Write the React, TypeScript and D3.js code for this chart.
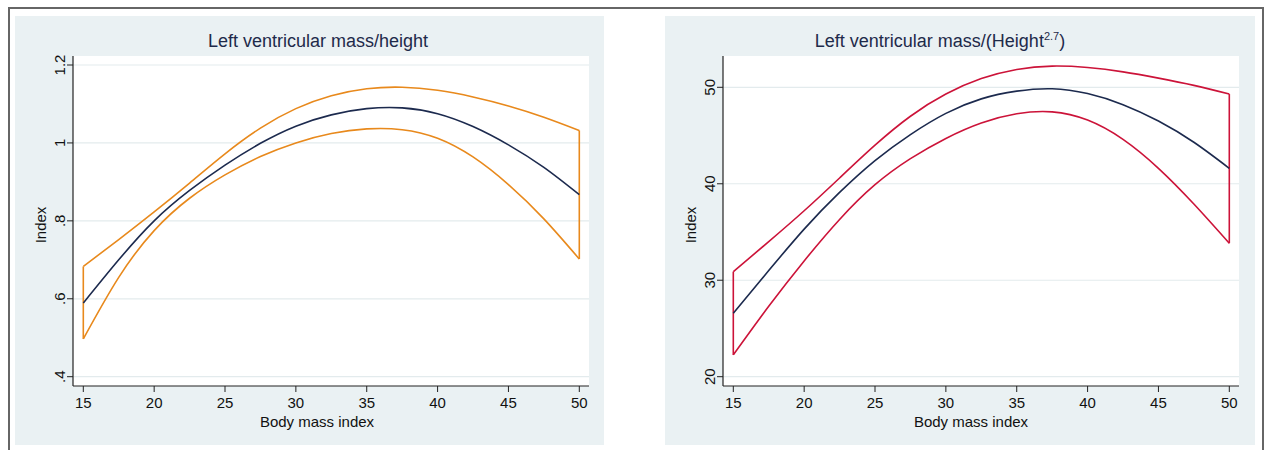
import React from 'react';
import * as d3 from 'd3';

// body mass index grid used for the fitted curves
const bmi = [15, 17.5, 20, 22.5, 25, 27.5, 30, 32.5, 35, 37.5, 40, 42.5, 45, 47.5, 50];

// left panel: LV mass / height
const lvhFit = [0.589, 0.7, 0.8, 0.878, 0.943, 0.999, 1.043, 1.072, 1.088, 1.09, 1.075, 1.042, 0.995, 0.937, 0.867];
const lvhUpper = [0.683, 0.752, 0.823, 0.897, 0.972, 1.038, 1.088, 1.121, 1.139, 1.143, 1.135, 1.118, 1.095, 1.066, 1.032];
const lvhLower = [0.497, 0.655, 0.775, 0.858, 0.918, 0.965, 1.0, 1.024, 1.036, 1.034, 1.012, 0.964, 0.893, 0.805, 0.702];

// right panel: LV mass / height^2.7
const lvh27Fit = [26.58, 31.0, 35.3, 39.1, 42.4, 45.1, 47.3, 48.8, 49.6, 49.85, 49.35, 48.2, 46.5, 44.3, 41.6];
const lvh27Upper = [30.89, 34.0, 37.2, 40.6, 44.0, 47.0, 49.3, 50.9, 51.85, 52.2, 52.05, 51.6, 50.95, 50.2, 49.3];
const lvh27Lower = [22.26, 27.3, 32.0, 36.3, 39.9, 42.6, 44.7, 46.3, 47.25, 47.45, 46.6, 44.6, 41.6, 37.9, 33.83];

const xTicks = [15, 20, 25, 30, 35, 40, 45, 50];
const leftYTicks = [0.4, 0.6, 0.8, 1, 1.2];
const leftYLabels = ['.4', '.6', '.8', '1', '1.2'];
const rightYTicks = [20, 30, 40, 50];
const rightYLabels = ['20', '30', '40', '50'];

const font = 'Arial, "Liberation Sans", Helvetica, sans-serif';
const bgColor = '#eaf1f3';
const gridColor = '#e3ebed';
const navy = '#1c2a4e';

interface IPanelProps {
  x0: number; // panel background left
  x1: number; // panel background right
  plotLeft: number;
  plotRight: number;
  yDomain: [number, number];
  yTop: number;
  yTicks: number[];
  yLabels: string[];
  fit: number[];
  upper: number[];
  lower: number[];
  ciColor: string;
  title: React.ReactNode;
  titleX: number;
  xTitleX: number;
}

const plotTop = 56;
const plotBottom = 386;

const Panel: React.FC<IPanelProps> = (p) => {
  const xScale = d3.scaleLinear().domain([15, 50]).range([p.plotLeft + 10.3, p.plotRight - 9.7]);
  const yScale = d3.scaleLinear().domain(p.yDomain).range([376.7, p.yTop]);

  const line = d3
    .line<number>()
    .x((_, i) => xScale(bmi[i]))
    .y((d) => yScale(d))
    .curve(d3.curveNatural);

  const first = 0;
  const last = bmi.length - 1;

  return (
    <g>
      <rect x={p.x0} y={16} width={p.x1 - p.x0} height={429} fill={bgColor} />
      <rect x={p.plotLeft} y={plotTop} width={p.plotRight - p.plotLeft} height={plotBottom - plotTop} fill="#fff" />
      {p.yTicks.map((t) => (
        <line key={t} x1={p.plotLeft} x2={p.plotRight} y1={yScale(t)} y2={yScale(t)} stroke={gridColor} strokeWidth={1.2} />
      ))}
      {/* confidence band */}
      <path d={line(p.upper) || ''} fill="none" stroke={p.ciColor} strokeWidth={1.6} />
      <path d={line(p.lower) || ''} fill="none" stroke={p.ciColor} strokeWidth={1.6} />
      <line
        x1={xScale(bmi[first])}
        x2={xScale(bmi[first])}
        y1={yScale(p.upper[first])}
        y2={yScale(p.lower[first])}
        stroke={p.ciColor}
        strokeWidth={1.6}
      />
      <line
        x1={xScale(bmi[last])}
        x2={xScale(bmi[last])}
        y1={yScale(p.upper[last])}
        y2={yScale(p.lower[last])}
        stroke={p.ciColor}
        strokeWidth={1.6}
      />
      <path d={line(p.fit) || ''} fill="none" stroke={navy} strokeWidth={1.6} />
      {/* axes */}
      <line x1={p.plotLeft} x2={p.plotLeft} y1={plotTop} y2={plotBottom} stroke="#222" strokeWidth={1.2} />
      <line x1={p.plotLeft} x2={p.plotRight} y1={plotBottom} y2={plotBottom} stroke="#222" strokeWidth={1.2} />
      {p.yTicks.map((t, i) => (
        <g key={t}>
          <line x1={p.plotLeft - 6} x2={p.plotLeft} y1={yScale(t)} y2={yScale(t)} stroke="#222" strokeWidth={1} />
          <text
            transform={`translate(${p.plotLeft - 8},${yScale(t)}) rotate(-90)`}
            textAnchor="middle"
            fontSize={15}
            fontFamily={font}
            fill="#111"
          >
            {p.yLabels[i]}
          </text>
        </g>
      ))}
      {xTicks.map((t) => (
        <g key={t}>
          <line x1={xScale(t)} x2={xScale(t)} y1={plotBottom} y2={plotBottom + 6} stroke="#222" strokeWidth={1} />
          <text x={xScale(t)} y={407.5} textAnchor="middle" fontSize={15} fontFamily={font} fill="#111">
            {t}
          </text>
        </g>
      ))}
      <text x={p.xTitleX} y={427} textAnchor="middle" fontSize={15} fontFamily={font} fill="#111">
        Body mass index
      </text>
      <text
        transform={`translate(${p.plotLeft - 27},${225}) rotate(-90)`}
        textAnchor="middle"
        fontSize={15}
        fontFamily={font}
        fill="#111"
      >
        Index
      </text>
      <text x={p.titleX} y={46.5} textAnchor="middle" fontSize={18} fontFamily={font} fill="#1e2a4a">
        {p.title}
      </text>
    </g>
  );
};

const App: React.FC = () => {
  return (
    <svg
      width={1264}
      height={450}
      style={{ position: 'absolute', left: 0, top: 0, display: 'block', background: '#fff' }}
    >
      <rect x={9} y={8} width={1254} height={460} fill="none" stroke="#666" strokeWidth={2} />
      <Panel
        x0={15}
        x1={604}
        plotLeft={73}
        plotRight={589}
        yDomain={[0.4, 1.2]}
        yTop={65}
        yTicks={leftYTicks}
        yLabels={leftYLabels}
        fit={lvhFit}
        upper={lvhUpper}
        lower={lvhLower}
        ciColor="#e8891c"
        title="Left ventricular mass/height"
        titleX={318}
        xTitleX={317}
      />
      <Panel
        x0={665}
        x1={1255}
        plotLeft={723}
        plotRight={1239}
        yDomain={[20, 50]}
        yTop={87.3}
        yTicks={rightYTicks}
        yLabels={rightYLabels}
        fit={lvh27Fit}
        upper={lvh27Upper}
        lower={lvh27Lower}
        ciColor="#cc1339"
        title={
          <>
            Left ventricular mass/(Height
            <tspan fontSize={11} dy={-7}>
              2.7
            </tspan>
            <tspan dy={7}>)</tspan>
          </>
        }
        titleX={940}
        xTitleX={971}
      />
    </svg>
  );
};

export default App;
